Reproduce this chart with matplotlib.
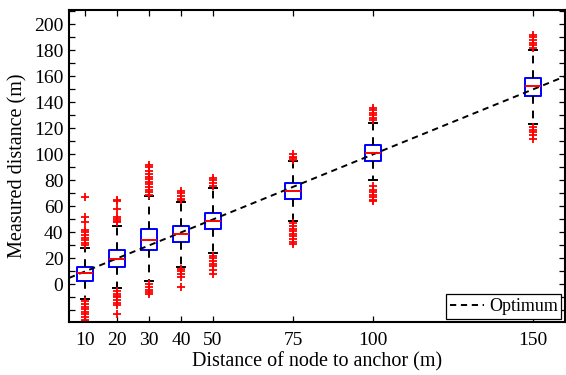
import numpy as np
import matplotlib
matplotlib.use('Agg')
import matplotlib.pyplot as plt
from matplotlib.ticker import FixedLocator, FuncFormatter

# distances to anchor (x positions of the boxes)
positions = [10, 20, 30, 40, 50, 75, 100, 150]

# box statistics
medians = [9, 19.7, 34, 38.5, 48.7, 71.8, 101.3, 153]
q1 = [2.8, 13.3, 26.2, 32.3, 42.3, 65.6, 94.6, 144.6]
q3 = [13.3, 26.2, 42.3, 44.6, 55.1, 78.2, 107.5, 158.7]
whislo = [-11.5, -2.8, 3, 13.3, 24, 49, 80.5, 123.6]
whishi = [28.2, 44.6, 67.7, 63.3, 74, 94.6, 124, 180]

fliers = [
    [67, 52, 48, 42, 40, 38, 36, 34, 32, 30, -13, -15, -17, -19, -21, -23, -25, -27, -28],
    [65, 64, 58, 52, 50, 49, 48, -5, -7, -9, -10, -12, -14, -16, -23],
    [92, 90, 87, 85, 83, 81, 79, 77, 75, 73, 71, 69, 0, -2, -4, -6, -7],
    [72, 70, 68, 66, 65, 12, 10, 8, 6, -2],
    [82, 80, 78, 76, 22, 20, 18, 16, 14, 11, 8],
    [100, 98, 97, 96, 47, 45, 43, 41, 39, 37, 35, 33, 31],
    [136, 134, 132, 130, 128, 126.7, 75.4, 73, 71, 69, 67, 65, 64],
    [192, 190, 188, 186, 184, 182, 121, 119, 117, 115, 111.5],
]

optimum_x = [5, 160]

plt.rcParams['font.family'] = ['Liberation Serif', 'DejaVu Serif']

fig = plt.figure(figsize=(5.66, 3.75), dpi=100)
ax = fig.add_axes([0.122, 0.141, 0.876, 0.832])

stats = []
for i in range(len(positions)):
    stats.append(dict(med=medians[i], q1=q1[i], q3=q3[i],
                      whislo=whislo[i], whishi=whishi[i], fliers=fliers[i]))

ax.bxp(stats, positions=positions, widths=5, capwidths=2.5,
       boxprops=dict(color='blue', linewidth=1.4),
       medianprops=dict(color='red', linewidth=1.4),
       whiskerprops=dict(color='black', linestyle=(0, (4, 3.5)), linewidth=1.4),
       capprops=dict(color='black', linewidth=1.4),
       flierprops=dict(marker='+', markeredgecolor='red', markersize=6,
                       markeredgewidth=1.3, linestyle='none'),
       manage_ticks=False)

ax.plot(optimum_x, optimum_x, color='black', linestyle=(0, (3.2, 2.4)),
        linewidth=1.4, label='Optimum')

ax.set_xlim(5, 160)
ax.set_ylim(-29, 211)
ax.set_xticks(positions)
ax.set_xticklabels([str(p) for p in positions])
ax.yaxis.set_major_locator(FixedLocator(list(range(-20, 211, 10))))
ax.yaxis.set_major_formatter(FuncFormatter(
    lambda v, p: str(int(v)) if v >= 0 and int(v) % 20 == 0 else ''))
ax.tick_params(direction='in', top=True, right=True, labelsize=14,
               length=4, width=0.9)
ax.tick_params(axis='x', pad=7)
ax.tick_params(axis='y', pad=4)

for s in ax.spines.values():
    s.set_linewidth(1.5)

ax.set_xlabel('Distance of node to anchor (m)', fontsize=14.5, labelpad=2)
ax.set_ylabel('Measured distance (m)', fontsize=14.5, labelpad=5)

leg = ax.legend(loc='lower right', fontsize=13, fancybox=False,
                edgecolor='black', framealpha=1, handlelength=1.9,
                borderaxespad=0.2, borderpad=0.2, handletextpad=0.25)
leg.get_frame().set_linewidth(0.9)

fig.savefig('out.png', dpi=100)
